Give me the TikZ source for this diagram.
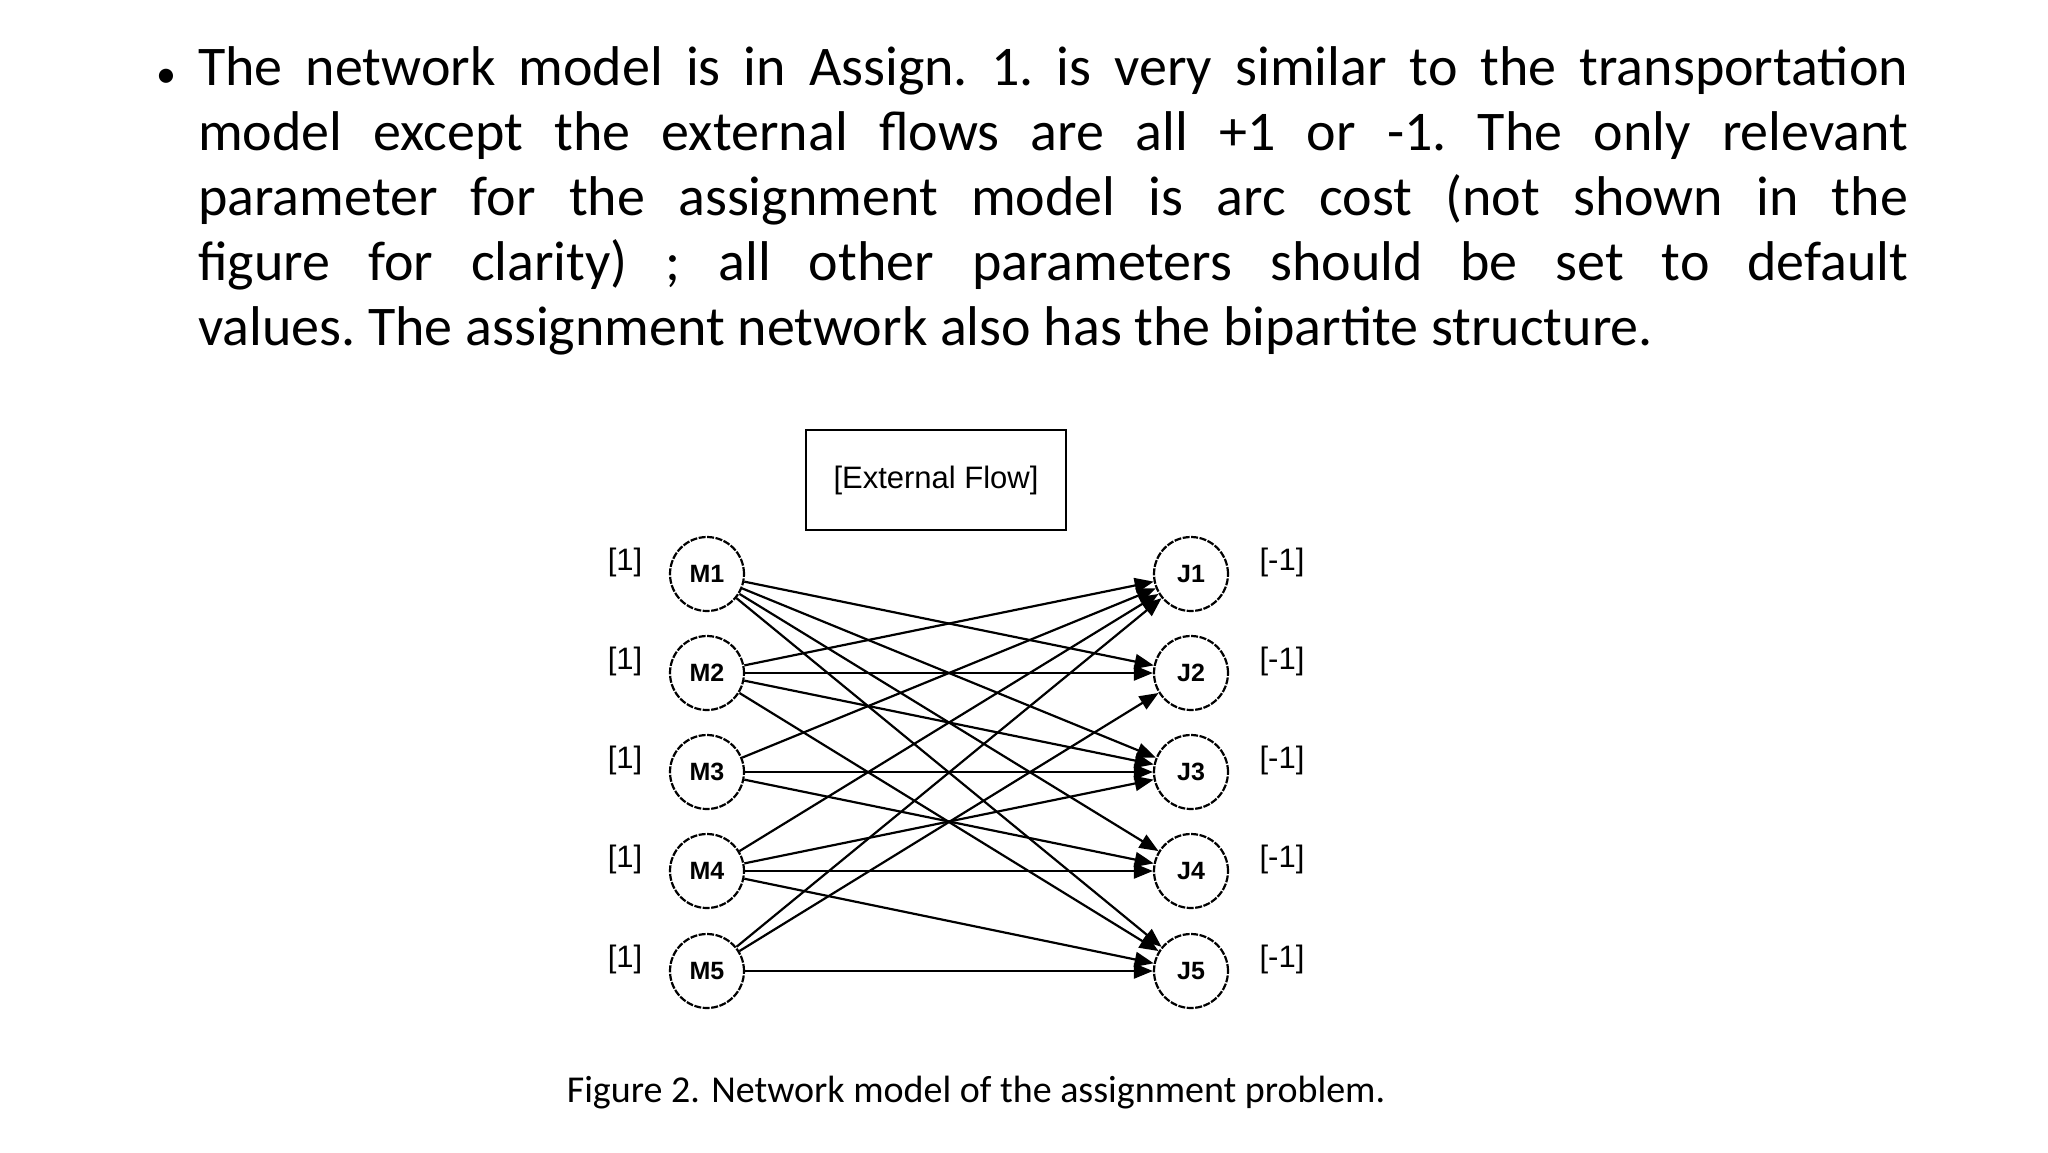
\documentclass[tikz,border=0pt]{standalone}
\usepackage{fontspec}
\setmainfont{Carlito}
\newfontfamily\diagfont{Liberation Sans}
\usetikzlibrary{arrows.meta}
\begin{document}
\begin{tikzpicture}[x=1pt,y=-1pt,
  mnode/.style={circle,draw,line width=2.2pt,dash pattern=on 7pt off 1.5pt,minimum size=74pt,inner sep=0pt,font=\diagfont\bfseries\fontsize{25}{27}\selectfont},
  flowlab/.style={font=\diagfont\fontsize{31}{33}\selectfont},
  arc/.style={-{Triangle[length=19pt,width=15pt]},line width=2.2pt}]
\useasboundingbox (0,0) rectangle (2048,1152);
\node[anchor=north west,text width=1710pt,align=justify,inner sep=0pt,font=\fontsize{56}{65}\selectfont] (txt) at (198,46)
{\frenchspacing\hyphenpenalty=10000 The network model is in Assign. 1. is very similar to the transportation\linebreak model except the external flows are all +1 or -1. The only relevant\linebreak parameter for the assignment model is arc cost (not shown in the\linebreak figure for clarity) ; all other parameters should be set to default\linebreak values. The assignment network also has the bipartite structure.};
\node[font=\fontsize{40}{65}\selectfont] (bul) at (166,78) {\textbullet};
\node[draw,line width=2pt,minimum width=260pt,minimum height=100pt,flowlab] (ef) at (936,480) {[External Flow]};
\foreach \i/\y in {1/574,2/673,3/772,4/871,5/971}{
  \node[mnode] (M\i) at (707,\y) {M\i};
  \node[mnode] (J\i) at (1191,\y) {J\i};
  \node[flowlab] (lm\i) at (625,\y-12) {[1]};
  \node[flowlab] (lj\i) at (1282,\y-12) {[-1]};
}
\foreach \a/\b in {1/2,1/3,1/4,1/5,2/1,2/2,2/3,2/5,3/1,3/3,3/4,4/1,4/3,4/4,4/5,5/1,5/2,5/5}{
  \draw[arc] (M\a) -- (J\b);
}
\node[font=\fontsize{38}{44}\selectfont] (cap) at (976,1093) {Figure 2. Network model of the assignment problem.};
\end{tikzpicture}
\end{document}
